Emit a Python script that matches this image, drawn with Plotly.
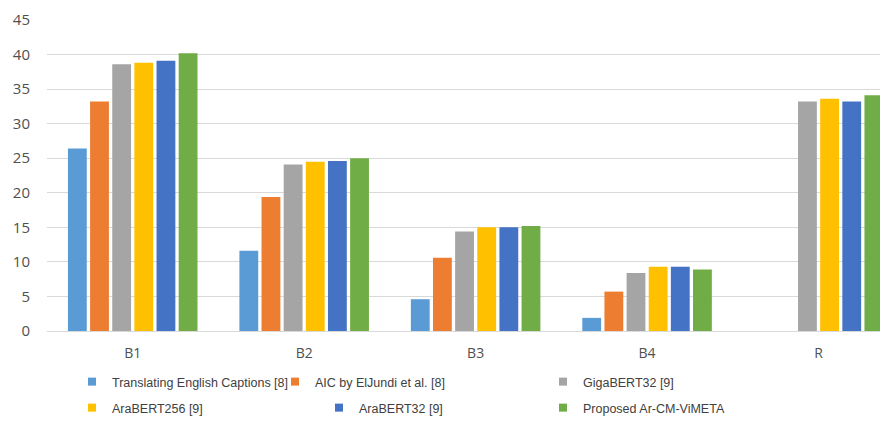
import plotly.graph_objects as go

categories = ["B1", "B2", "B3", "B4", "R"]
series_names = [
    "Translating English Captions [8]",
    "AIC by ElJundi et al. [8]",
    "GigaBERT32 [9]",
    "AraBERT256 [9]",
    "AraBERT32 [9]",
    "Proposed Ar-CM-ViMETA",
]
translating = [26.4, 11.6, 4.6, 1.9, None]
aic = [33.2, 19.4, 10.6, 5.7, None]
gigabert32 = [38.6, 24.1, 14.4, 8.4, 33.2]
arabert256 = [38.8, 24.5, 15.0, 9.3, 33.6]
arabert32 = [39.1, 24.6, 15.0, 9.3, 33.2]
proposed = [40.2, 25.0, 15.2, 8.9, 34.1]
y_ticks = [0, 5, 10, 15, 20, 25, 30, 35, 40, 45]

all_values = [translating, aic, gigabert32, arabert256, arabert32, proposed]
colors = ["#5B9BD5", "#ED7D31", "#A5A5A5", "#FFC000", "#4472C4", "#70AD47"]
legend_ids = ["legend", "legend2", "legend3", "legend4", "legend5", "legend6"]
# legend placement (screen px): text start x, row center y
legend_pos = [(113, 383), (316, 383), (584, 383), (113, 409), (360, 409), (584, 409)]

# page has an 8px body margin: figure sized to fill the rest of the window
W, H = 880, 416
OFF = 8
fig = go.Figure()
for name, vals, col in zip(series_names, all_values, colors):
    fig.add_trace(go.Bar(x=categories, y=vals, name=name, marker_color=col,
                         marker_line_width=0, showlegend=False))
for name, col, lid in zip(series_names, colors, legend_ids):
    fig.add_trace(go.Scatter(x=[None], y=[None], mode="markers", name=name,
                             marker=dict(symbol="square", size=8, color=col),
                             legend=lid, hoverinfo="skip"))

font_legend = dict(family="Liberation Sans, Arial, sans-serif", size=12.5, color="#404040")
layout_legends = {}
for lid, (px, py) in zip(legend_ids, legend_pos):
    layout_legends[lid] = dict(
        xref="container", yref="container",
        x=(px - 41 - OFF) / W, y=1 - (py - 1 - OFF) / H, xanchor="left", yanchor="middle",
        orientation="h", font=font_legend, bgcolor="rgba(0,0,0,0)",
        itemwidth=30, itemclick=False,
    )

left = 38.75
zero_y = 331 - OFF
plot_w = W - left
fig.update_layout(
    width=W, height=H,
    margin=dict(l=left, r=0, t=20 - OFF, b=H - zero_y, autoexpand=False),
    paper_bgcolor="white", plot_bgcolor="white",
    barmode="group", bargap=0.225, bargroupgap=0.15,
    font=dict(family="Open Sans, sans-serif", size=14, color="#505050"),
    xaxis=dict(range=[-0.5, -0.5 + plot_w / 171.5], showgrid=False,
               showline=True, linecolor="#D9D9D9", linewidth=1,
               tickfont=dict(size=14), ticklabelstandoff=9),
    yaxis=dict(range=[0, 45], tickvals=y_ticks, showgrid=True,
               gridcolor="#D9D9D9", gridwidth=1, zeroline=False,
               showline=False, tickfont=dict(size=15), ticklabelstandoff=16),
    **layout_legends,
)
fig.write_html("out.html")
